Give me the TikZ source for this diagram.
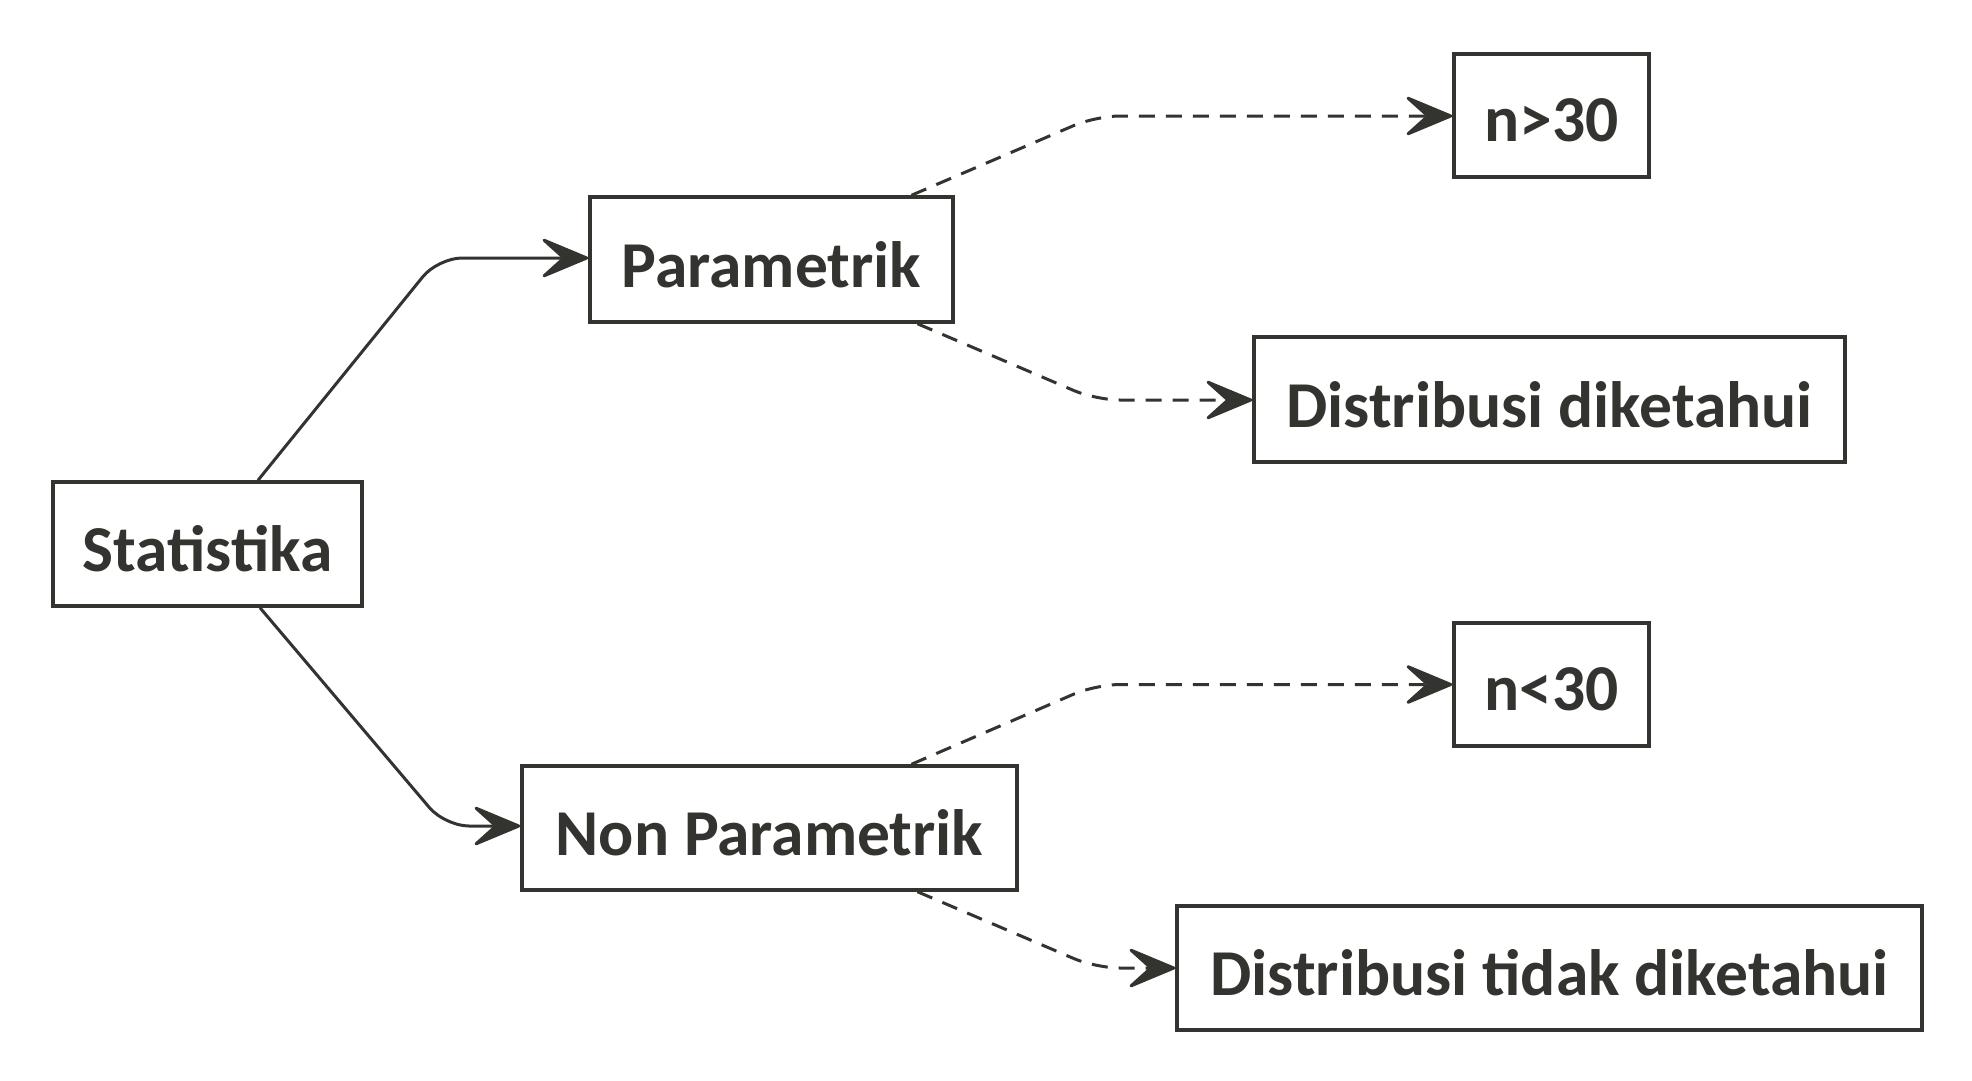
\documentclass[tikz,border=0pt]{standalone}
\usepackage{fontspec}
\setmainfont{Carlito}
\usetikzlibrary{arrows.meta}
\definecolor{ink}{RGB}{51,51,48}
\newcommand{\lowtxt}[1]{\raisebox{-5pt}[\height][\depth]{#1}}
\begin{document}
\begin{tikzpicture}[x=1pt,y=-1pt,
  box/.style={draw=ink,line width=3.5pt,inner sep=0pt,text=ink,
    font=\fontsize{65.5}{72}\selectfont\bfseries},
  conn/.style={draw=ink,line width=3pt,rounded corners=24pt,
    -{Stealth[length=54pt,width=45pt,inset=25pt,round]}},
  dconn/.style={conn,dash pattern=on 16pt off 11pt}]
\useasboundingbox (0,0) rectangle (1972,1080);
\node[box,minimum width=309pt,minimum height=124pt] (stat) at (207.5,544) {\lowtxt{Statistika}};
\node[box,minimum width=363pt,minimum height=125pt] (par) at (771.5,259.5) {\lowtxt{Parametrik}};
\node[box,minimum width=495pt,minimum height=124pt] (npar) at (769.5,828) {\lowtxt{Non Parametrik}};
\node[box,minimum width=195pt,minimum height=123pt] (ngt) at (1551.5,115.5) {\lowtxt{n>30}};
\node[box,minimum width=591pt,minimum height=125pt] (dk) at (1549.5,399.5) {\lowtxt{Distribusi diketahui}};
\node[box,minimum width=195pt,minimum height=123pt] (nlt) at (1551.5,684.5) {\lowtxt{n<30}};
\node[box,minimum width=745pt,minimum height=124pt] (dtk) at (1549.5,968) {\lowtxt{Distribusi tidak diketahui}};
\coordinate (c1) at (438,258);
\coordinate (c2) at (445,826);
\coordinate (c3) at (1096,116);
\coordinate (c4) at (1096,400);
\coordinate (c5) at (1096,684.5);
\coordinate (c6) at (1096,968);
\draw[conn] ([xshift=50.5pt]stat.north) -- (c1) -- (c1 -| par.west);
\draw[conn] ([xshift=52.5pt]stat.south) -- (c2) -- (c2 -| npar.west);
\draw[dconn] ([xshift=140pt]par.north) -- (c3) -- (c3 -| ngt.west);
\draw[dconn] ([xshift=146pt]par.south) -- (c4) -- (c4 -| dk.west);
\draw[dconn] ([xshift=142pt]npar.north) -- (c5) -- (c5 -| nlt.west);
\draw[dconn] ([xshift=148pt]npar.south) -- (c6) -- (c6 -| dtk.west);
\end{tikzpicture}
\end{document}
